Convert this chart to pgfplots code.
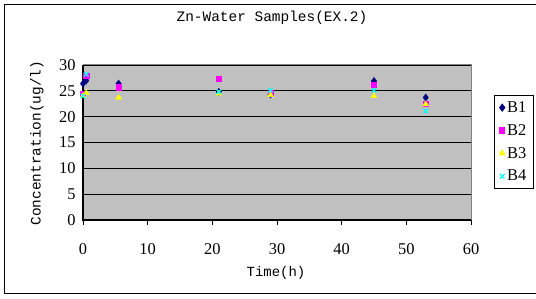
\documentclass[border=0pt]{standalone}
\usepackage{fontspec}
\usepackage{pgfplots}
\pgfplotsset{compat=1.18}
\setmainfont{Liberation Serif}
\newfontfamily\monof{Liberation Mono}
\definecolor{plotgray}{RGB}{192,192,192}
\definecolor{gridgray}{RGB}{128,128,128}
\definecolor{bnavy}{RGB}{0,0,128}
\definecolor{bmag}{RGB}{255,0,255}
\definecolor{byel}{RGB}{255,255,0}
\definecolor{bcyan}{RGB}{0,255,255}
\begin{document}
\begin{tikzpicture}[x=1bp,y=1bp]
\useasboundingbox (0,0) rectangle (536,298);
\draw[black, line width=1bp] (4.5,5) rectangle (560,293.5);
\node[font=\monof\fontsize{14.5}{16}\selectfont] at (272,280) {Zn-Water Samples(EX.2)};
\node[font=\monof\fontsize{14}{16}\selectfont] at (276,25) {Time(h)};
\node[font=\monof\fontsize{14.5}{16}\selectfont, rotate=90] at (37,155) {Concentration(ug/l)};
\begin{axis}[
  at={(83bp,78bp)}, anchor=south west,
  scale only axis, width=388bp, height=155bp,
  xmin=0, xmax=60, ymin=0, ymax=30,
  xtick={0,10,...,60}, ytick={0,5,...,30},
  axis background/.style={fill=plotgray},
  axis line style={draw=none},
  ymajorgrids, major grid style={black, line width=0.8bp},
  xtick style={black, line width=1bp},
  ytick style={draw=none},
  tick align=outside, major tick length=5bp,
  xtick pos=bottom, ytick pos=left,
  tick label style={font=\fontsize{16.5}{17}\selectfont},
  /pgf/number format/assume math mode=true,
  xticklabel style={yshift=-15bp},
  yticklabel style={xshift=1bp},
  clip=false,
  legend style={at={(rel axis cs:1.059,0.806)}, anchor=north west,
    draw=black, line width=0.8bp, fill=white,
    font=\fontsize{16.5}{17}\selectfont,
    row sep=6.5bp, inner xsep=5bp, inner ysep=4bp},
  legend cell align=left,
  legend image code/.code={\draw[#1] plot coordinates {(0.25cm,0cm)};},
]
\draw[gridgray, line width=1bp] (rel axis cs:0,1) -- (rel axis cs:1,1) -- (rel axis cs:1,0);
\draw[black, line width=1.2bp] (rel axis cs:0,1) -- (rel axis cs:0,0) -- (rel axis cs:1,0);
\addplot[only marks, mark=diamond*, mark size=3.6bp, color=bnavy, mark options={fill=bnavy, draw=bnavy}] coordinates {
  (0,26.4) (0.5,27.0) (5.5,26.4) (21,24.8) (29,24.3) (45,26.9) (53,23.7)};
\addlegendentry{B1}
\addplot[only marks, mark=square*, mark size=2.6bp, color=bmag, mark options={fill=bmag, draw=bmag}] coordinates {
  (0,24.5) (0.5,28.0) (5.5,25.7) (21,27.3) (29,24.7) (45,26.2) (53,22.5)};
\addlegendentry{B2}
\addplot[only marks, mark=triangle*, mark size=3.4bp, color=byel, mark options={fill=byel, draw=byel}] coordinates {
  (0,24.0) (0.5,24.6) (5.5,23.7) (21,24.5) (29,24.2) (45,24.0) (53,22.4)};
\addlegendentry{B3}
\addplot[only marks, mark=x, mark size=3.2bp, color=bcyan, mark options={draw=bcyan, line width=1.2bp}] coordinates {
  (0,24.0) (0.5,28.2) (21,24.8) (29,25.1) (45,25.1) (53,21.1)};
\addlegendentry{B4}
\end{axis}
\end{tikzpicture}
\end{document}
